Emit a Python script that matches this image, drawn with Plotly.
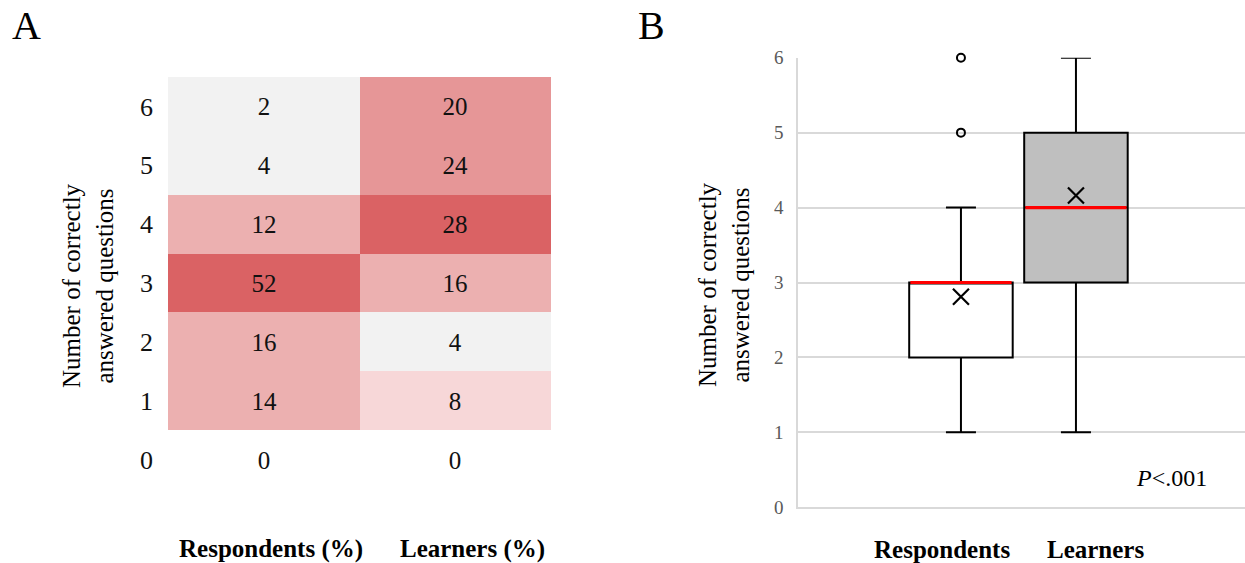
import numpy as np
import plotly.graph_objects as go

# ---------------- data ----------------
scores = [0, 1, 2, 3, 4, 5, 6]
heat_columns = ["Respondents (%)", "Learners (%)"]
respondents_pct = [0, 14, 16, 52, 12, 4, 2]
learners_pct = [0, 8, 4, 16, 28, 24, 20]

box_groups = ["Respondents", "Learners"]
box_q1 = [2, 3]
box_median = [3, 4]
box_q3 = [3, 5]
box_lower = [1, 1]
box_upper = [4, 6]
box_mean = [2.81, 4.16]
outlier_group = [0, 0]
outlier_values = [5, 6]
box_fill = ["#ffffff", "#bfbfbf"]

p_text = "<i>P</i>&lt;.001"

# ---------------- style ----------------
FONT = "Liberation Serif"
W, H = 1245, 563
level_edges = [1, 6, 10, 18, 26]
level_colors = ["#ffffff", "#f2f2f2", "#f7d7d8", "#ecb0b0", "#e69697", "#da6264"]

def px_x(p):
    return p / W

def px_y(p):
    return 1 - p / H

n = len(level_colors)
cscale = []
for i, c in enumerate(level_colors):
    cscale.append([i / n, c])
    cscale.append([(i + 1) / n, c])

vals = np.array([respondents_pct, learners_pct]).T  # rows = scores
levels = np.digitize(vals, level_edges)

fig = go.Figure()

fig.add_trace(go.Heatmap(
    x=[0, 1], y=scores, z=levels, text=vals,
    texttemplate="%{text}", textfont=dict(family=FONT, size=25, color="#111111"),
    colorscale=cscale, zmin=-0.5, zmax=n - 0.5, showscale=False,
    xgap=0, ygap=0, hoverinfo="skip", xaxis="x", yaxis="y"))

BOX_W = 0.9
for i, g in enumerate(box_groups):
    fig.add_trace(go.Box(
        x=[i], q1=[box_q1[i]], median=[box_median[i]], q3=[box_q3[i]],
        lowerfence=[box_lower[i]], upperfence=[box_upper[i]],
        width=BOX_W, whiskerwidth=0.29, fillcolor=box_fill[i],
        line=dict(color="#000000", width=2), boxpoints=False,
        name=g, showlegend=False, xaxis="x2", yaxis="y2"))
    fig.add_trace(go.Scatter(
        x=[i - BOX_W / 2 + 0.01, i + BOX_W / 2 - 0.01], y=[box_median[i], box_median[i]],
        mode="lines", line=dict(color="#ff0000", width=3.2),
        showlegend=False, hoverinfo="skip", xaxis="x2", yaxis="y2"))

fig.add_trace(go.Scatter(
    x=list(range(len(box_groups))), y=box_mean, mode="markers",
    marker=dict(symbol="x-thin", size=16, line=dict(color="#000000", width=2.2)),
    showlegend=False, hoverinfo="skip", xaxis="x2", yaxis="y2", cliponaxis=False))

fig.add_trace(go.Scatter(
    x=outlier_group, y=outlier_values, mode="markers",
    marker=dict(symbol="circle-open", size=8, color="#000000", line=dict(color="#000000", width=2)),
    showlegend=False, hoverinfo="skip", xaxis="x2", yaxis="y2", cliponaxis=False))

annotations = [
    dict(text="A", x=px_x(26), y=px_y(26), font=dict(family=FONT, size=40, color="#000")),
    dict(text="B", x=px_x(651), y=px_y(26), font=dict(family=FONT, size=40, color="#000")),
    dict(text="Number of correctly<br>answered questions", x=px_x(88), y=px_y(285), textangle=-90,
         font=dict(family=FONT, size=25, color="#000")),
    dict(text="Number of correctly<br>answered questions", x=px_x(724), y=px_y(285), textangle=-90,
         font=dict(family=FONT, size=25, color="#000")),
    dict(text="<b>" + heat_columns[0] + "</b>", x=px_x(271), y=px_y(549),
         font=dict(family=FONT, size=25, color="#000")),
    dict(text="<b>" + heat_columns[1] + "</b>", x=px_x(472), y=px_y(549),
         font=dict(family=FONT, size=25, color="#000")),
    dict(text="<b>" + box_groups[0] + "</b>", x=px_x(942), y=px_y(549),
         font=dict(family=FONT, size=25, color="#000")),
    dict(text="<b>" + box_groups[1] + "</b>", x=px_x(1095), y=px_y(549),
         font=dict(family=FONT, size=25, color="#000")),
    dict(text=p_text, x=px_x(1171), y=px_y(478),
         font=dict(family=FONT, size=24, color="#000")),
]
for a in annotations:
    a.update(xref="paper", yref="paper", showarrow=False, xanchor="center", yanchor="middle")

fig.update_layout(
    width=W, height=H, margin=dict(l=0, r=0, t=0, b=0, pad=0, autoexpand=False),
    paper_bgcolor="white", plot_bgcolor="white", showlegend=False,
    font=dict(family=FONT, color="#000"),
    xaxis=dict(domain=[px_x(168), px_x(551)], range=[-0.5, 1.5], showticklabels=False,
               showgrid=False, zeroline=False, ticks="", automargin=False),
    yaxis=dict(domain=[px_y(489), px_y(77)], range=[-0.5, 6.5], tickvals=scores,
               ticks="", showgrid=False, zeroline=False, ticklabelstandoff=14, automargin=False,
               tickfont=dict(family=FONT, size=26, color="#111")),
    xaxis2=dict(domain=[px_x(798), 1.0], range=[-1.417, 2.470], anchor="y2",
                showticklabels=False, showgrid=False, zeroline=False, ticks="", automargin=False,
                showline=True, linecolor="#d9d9d9", linewidth=1.5),
    yaxis2=dict(domain=[px_y(507.3), px_y(57.7)], range=[0, 6], anchor="x2",
                tickvals=scores, ticks="", showgrid=True, gridcolor="#d9d9d9", gridwidth=1.5,
                zeroline=False, showline=True, linecolor="#d9d9d9", linewidth=1.5, automargin=False,
                ticklabelstandoff=9, tickfont=dict(family=FONT, size=19, color="#595959")),
    annotations=annotations,
)

fig.write_html("out.html", config={"displayModeBar": False},
               post_script="document.body.style.margin='0';document.body.style.overflow='hidden';")
